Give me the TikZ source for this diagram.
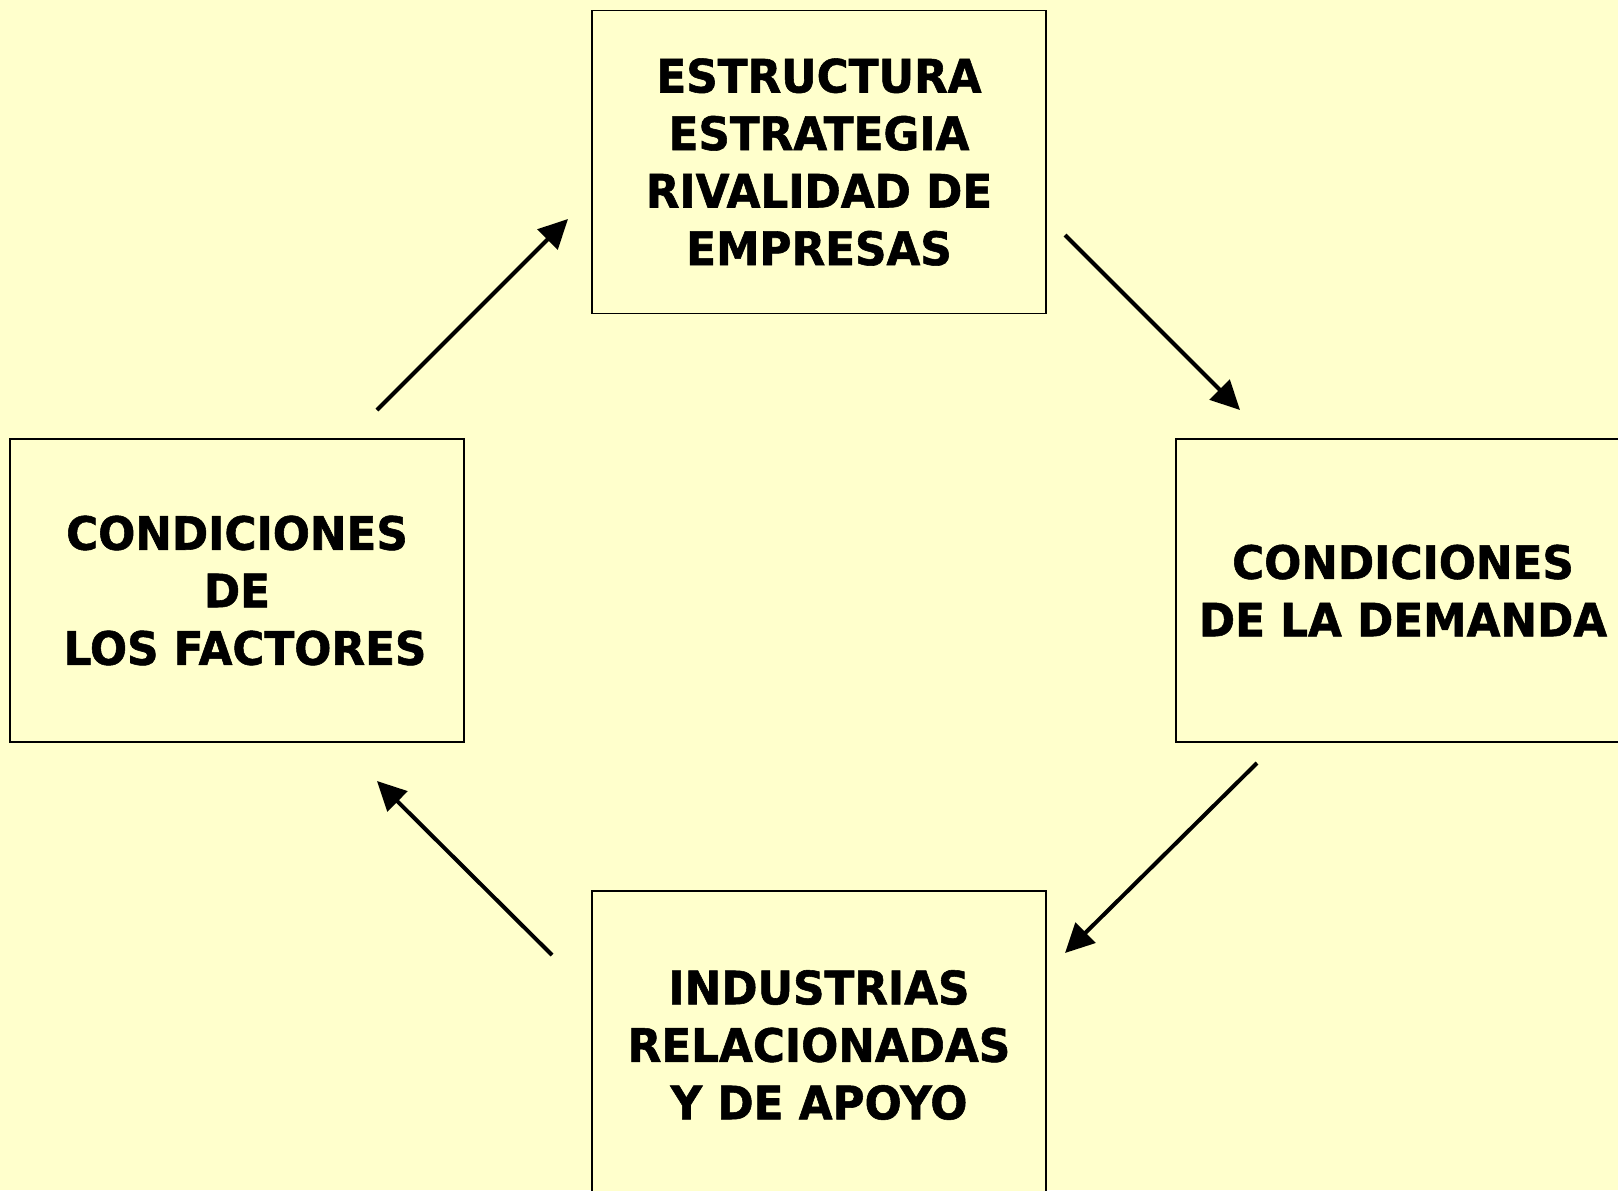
\documentclass[tikz,border=0pt]{standalone}
\usepackage{fontspec}
\setmainfont{DejaVu Sans}[BoldFeatures={FakeStretch=0.95,FakeBold=1.2}]
\usetikzlibrary{arrows.meta}
\definecolor{bg}{HTML}{FFFFCC}
\begin{document}
\begin{tikzpicture}[x=0.5pt,y=-0.5pt,
  box/.style={draw=black, line width=0.8pt, fill=bg, minimum width=227pt, minimum height=151.5pt, inner sep=0pt, align=center, font=\fontsize{23}{28.75}\selectfont\bfseries},
  arr/.style={line width=2pt, -{Triangle[length=14.5pt,width=14pt]}}]
\path[fill=bg] (0,0) rectangle (1618,1190);
\useasboundingbox (0,0) rectangle (1618,1190);
\clip (0,0) rectangle (1618,1190);
\node[box] (top) at (819,162) {ESTRUCTURA\\ESTRATEGIA\\RIVALIDAD DE\\EMPRESAS};
\node[box] (left) at (237,590.5) {CONDICIONES\\DE\\\hspace*{0.35em}LOS FACTORES};
\node[box] (right) at (1403,590.5) {CONDICIONES\\DE LA DEMANDA};
\node[box, minimum height=154pt] (bottom) at (819,1045) {INDUSTRIAS\\RELACIONADAS\\Y DE APOYO};
\coordinate (a1s) at (377,410);
\coordinate (a1e) at (568,219);
\coordinate (a2s) at (1065,235);
\coordinate (a2e) at (1240,410);
\coordinate (a3s) at (1257,763);
\coordinate (a3e) at (1065,953);
\coordinate (a4s) at (552,955);
\coordinate (a4e) at (377,781);
\draw[arr] (a1s) -- (a1e);
\draw[arr] (a2s) -- (a2e);
\draw[arr] (a3s) -- (a3e);
\draw[arr] (a4s) -- (a4e);
\end{tikzpicture}
\end{document}
